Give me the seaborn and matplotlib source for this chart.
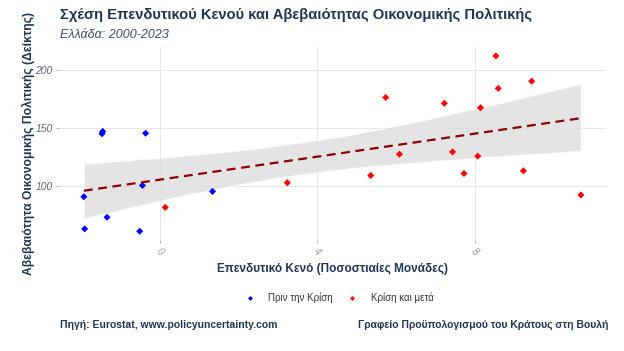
import numpy as np
import pandas as pd
import seaborn as sns
from matplotlib import pyplot as plt

# data
gap_pre = [-1.93, -1.91, -1.47, -1.45, -1.34, -0.36, -0.44, -0.51, 1.34]
unc_pre = [90.5, 62.7, 145.0, 147.0, 72.7, 145.4, 100.3, 60.6, 95.1]
gap_post = [0.14, 3.24, 8.54, 5.74, 7.23, 8.60, 9.45, 8.15, 6.09, 7.44, 8.08, 5.36, 7.73, 9.24, 10.70]
unc_post = [81.3, 102.6, 212.3, 176.4, 171.3, 184.2, 190.5, 167.5, 127.3, 129.3, 125.6, 108.9, 110.6, 112.9, 92.0]
group_names = ["Πριν την Κρίση", "Κρίση και μετά"]
x_ticks = [0, 4, 8]
y_ticks = [100, 150, 200]

df = pd.DataFrame({
    "gap": gap_pre + gap_post,
    "unc": unc_pre + unc_post,
    "period": [group_names[0]] * len(gap_pre) + [group_names[1]] * len(gap_post),
})

sns.set_theme(style="whitegrid")
plt.rcParams['font.family'] = ['Liberation Sans', 'DejaVu Sans']

navy = "#1f3556"
fig = plt.figure(figsize=(6.24, 3.51), dpi=100)
ax = fig.add_axes([0.0946, 0.316, 0.876, 0.55])

sns.regplot(data=df, x="gap", y="unc", scatter=False, ci=95, n_boot=2000, seed=3, ax=ax,
            line_kws={"color": "#8b0000", "linestyle": (0, (4, 2.5)), "linewidth": 1.6})
for coll in ax.collections:
    coll.set_facecolor("#dcdcdc")
    coll.set_alpha(0.75)
sns.scatterplot(data=df, x="gap", y="unc", hue="period", palette=["#0000ff", "#ff0000"],
                marker="D", s=13, edgecolor="none", ax=ax, legend=True)

ax.set_xlim(-2.56, 11.33)
ax.set_ylim(53, 220)
ax.set_xticks(x_ticks)
ax.set_yticks(y_ticks)
ax.set_xticklabels([str(t) for t in x_ticks], rotation=-45, fontsize=7, color="#999999",
                   style="italic")
ax.set_yticklabels([str(t) for t in y_ticks], fontsize=7.5, color="#5a6478", style="italic")
ax.tick_params(axis="both", length=2.5, width=0.6, color="#aaaaaa", pad=2, left=True, bottom=True)
for s in ax.spines.values():
    s.set_visible(False)
ax.grid(color="#e6e6e6", linewidth=0.7)
ax.set_xlabel("Επενδυτικό Κενό (Ποσοστιαίες Μονάδες)", fontsize=8.5, fontweight="bold",
              color=navy, labelpad=4)
ax.set_ylabel("Αβεβαιότητα Οικονομικής Πολιτικής (Δείκτης)", fontsize=8.7, fontweight="bold",
              color=navy, labelpad=5)
ax.yaxis.set_label_coords(-0.044, 0.5)

handles, labels = ax.get_legend_handles_labels()
ax.get_legend().remove()
fig.legend(handles, labels, loc="center", bbox_to_anchor=(0.54, 0.151), ncol=2, frameon=False,
           prop={"family": ["Liberation Sans Narrow", "Liberation Sans"], "size": 7},
           labelcolor="#333333", handletextpad=0.9, columnspacing=1.0, markerscale=0.7)

fig.text(0.096, 0.957, "Σχέση Επενδυτικού Κενού και Αβεβαιότητας Οικονομικής Πολιτικής",
         fontsize=10.6, fontweight="bold", color=navy, va="center")
fig.text(0.096, 0.9, "Ελλάδα: 2000-2023", fontsize=9, style="italic", color="#3d4b66",
         va="center")
fig.text(0.096, 0.073, "Πηγή: Eurostat, www.policyuncertainty.com", fontsize=7.5,
         fontweight="bold", color=navy, va="center")
fig.text(0.975, 0.073, "Γραφείο Προϋπολογισμού του Κράτους στη Βουλή", fontsize=7.5,
         fontweight="bold", color=navy, va="center", ha="right")

fig.savefig("out.png", dpi=100)
